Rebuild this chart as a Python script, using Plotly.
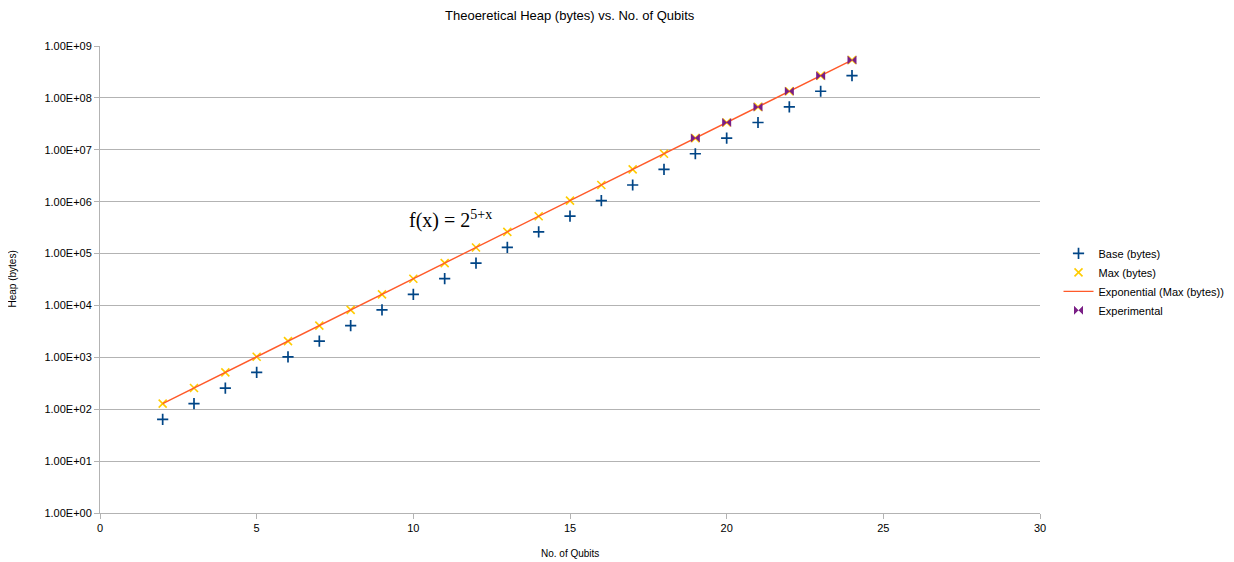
import plotly.graph_objects as go

qubits = [2, 3, 4, 5, 6, 7, 8, 9, 10, 11, 12, 13, 14, 15, 16, 17, 18, 19, 20, 21, 22, 23, 24]
base_bytes = [64, 128, 256, 512, 1024, 2048, 4096, 8192, 16384, 32768, 65536, 131072,
              262144, 524288, 1048576, 2097152, 4194304, 8388608, 16777216, 33554432,
              67108864, 134217728, 268435456]
max_bytes = [128, 256, 512, 1024, 2048, 4096, 8192, 16384, 32768, 65536, 131072, 262144,
             524288, 1048576, 2097152, 4194304, 8388608, 16777216, 33554432, 67108864,
             134217728, 268435456, 536870912]
exp_qubits = [19, 20, 21, 22, 23, 24]
exp_bytes = [16777216, 33554432, 67108864, 134217728, 268435456, 536870912]

y_tickvals = [1e0, 1e1, 1e2, 1e3, 1e4, 1e5, 1e6, 1e7, 1e8, 1e9]
y_ticktext = ["1.00E+00", "1.00E+01", "1.00E+02", "1.00E+03", "1.00E+04",
              "1.00E+05", "1.00E+06", "1.00E+07", "1.00E+08", "1.00E+09"]

font = "Liberation Sans, Arial, sans-serif"

fig = go.Figure()
fig.add_trace(go.Scatter(x=qubits, y=base_bytes, mode="markers", name="Base (bytes)",
                         marker=dict(symbol="cross-thin", size=8, color="#004586",
                                     line=dict(color="#004586", width=1.7))))
fig.add_trace(go.Scatter(x=qubits, y=max_bytes, mode="markers", name="Max (bytes)",
                         marker=dict(symbol="x-thin", size=8, color="#ffcc00",
                                     line=dict(color="#ffcc00", width=1.6))))
fig.add_trace(go.Scatter(x=qubits, y=max_bytes, mode="lines", name="Exponential (Max (bytes))",
                         line=dict(color="#ff5a2a", width=1.4)))
fig.add_trace(go.Scatter(x=exp_qubits, y=exp_bytes, mode="markers", name="Experimental",
                         marker=dict(symbol="bowtie", size=9, color="#7a1f86",
                                     line=dict(width=0))))

fig.add_annotation(x=11.2, y=5.65, xref="x", yref="y", showarrow=False,
                   xanchor="center", yanchor="middle",
                   text="f(x) = 2<sup>5+x</sup>",
                   font=dict(family="Liberation Serif, Times New Roman, serif", size=20, color="#000000"))

# title and axis titles
fig.add_annotation(x=0.5, xref="paper", y=1 + 30 / 467, yref="paper", showarrow=False,
                   xanchor="center", yanchor="middle",
                   text="Theoeretical Heap (bytes) vs. No. of Qubits",
                   font=dict(family=font, size=13, color="#000000"))
fig.add_annotation(x=-88 / 940, xref="paper", y=0.5, yref="paper", showarrow=False,
                   xanchor="center", yanchor="middle",
                   text="Heap (bytes)", textangle=-90,
                   font=dict(family=font, size=10, color="#000000"))
fig.add_annotation(x=0.5, xref="paper", y=-40 / 467, yref="paper", showarrow=False,
                   xanchor="center", yanchor="middle",
                   text="No. of Qubits",
                   font=dict(family=font, size=10, color="#000000"))

fig.update_layout(
    width=1226, height=554,
    margin=dict(l=92, r=194, t=38, b=49, autoexpand=False),
    paper_bgcolor="white", plot_bgcolor="white",
    font=dict(family=font, size=11, color="#333333"),
    legend=dict(x=1.0197, xanchor="left", y=0.495, yanchor="middle",
                font=dict(family=font, size=11, color="#000000"),
                tracegroupgap=0, itemwidth=30),
    showlegend=True,
)
fig.update_xaxes(range=[0, 30], tickvals=[0, 5, 10, 15, 20, 25, 30], showgrid=False,
                 showline=True, linecolor="#b3b3b3", linewidth=1, automargin=False,
                 ticks="outside", ticklen=5, tickcolor="#b3b3b3", zeroline=False,
                 tickfont=dict(family=font, size=11, color="#000000"))
fig.update_yaxes(type="log", range=[0, 9], tickvals=y_tickvals, ticktext=y_ticktext,
                 showgrid=True, gridcolor="#b3b3b3", gridwidth=1, automargin=False,
                 showline=True, linecolor="#b3b3b3", linewidth=1,
                 ticks="outside", ticklen=5, tickcolor="#b3b3b3", zeroline=False,
                 tickfont=dict(family=font, size=11, color="#000000"))

fig.write_html("out.html")
